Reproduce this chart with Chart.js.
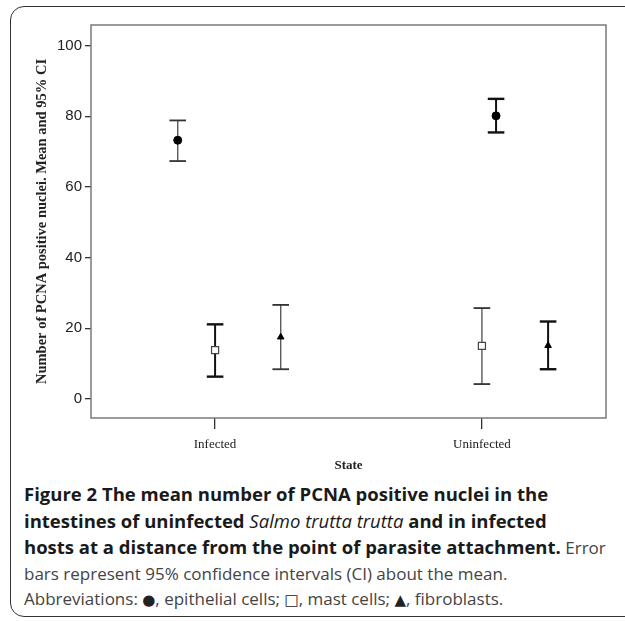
<!DOCTYPE html>
<html>
<head>
<meta charset="utf-8">
<script src="https://cdn.jsdelivr.net/npm/chart.js@4"></script>
<style>
  body { margin: 0; background: #fff; width: 625px; height: 621px; overflow: hidden; position: relative; }
  #frame { position: absolute; left: 10px; top: 6px; width: 700px; height: 611px; border: 1.8px solid #333; border-radius: 14px; box-sizing: border-box; }
  #wrap { position: absolute; left: 0; top: 0; width: 625px; height: 480px; }
  #caption { position: absolute; left: 24px; top: 481px; font-family: "Open Sans", sans-serif; font-size: 17px; line-height: 25.5px; color: #444; white-space: nowrap; }
  #caption b { color: #1a1a1a; font-size: 18.5px; }
  #caption i { color: #1a1a1a; font-size: 18.5px; }
  #caption .sym { font-family: "DejaVu Sans", sans-serif; font-size: 15px; color: #222; }
</style>
</head>
<body>
<div id="frame"></div>
<div id="wrap"><canvas id="chart" width="625" height="480"></canvas></div>
<div id="caption">
  <b>Figure 2 The mean number of PCNA positive nuclei in the</b><br>
  <b>intestines of uninfected </b><i>Salmo trutta trutta</i><b> and in infected</b><br>
  <b>hosts at a distance from the point of parasite attachment.</b> Error<br>
  bars represent 95% confidence intervals (CI) about the mean.<br>
  Abbreviations: <span class="sym">●</span>, epithelial cells; <span class="sym">□</span>, mast cells; <span class="sym">▲</span>, fibroblasts.
</div>
<script>
// data
const states = ["Infected", "Uninfected"];
const yTicks = [0, 20, 40, 60, 80, 100];

const epiMean = [73.2, 80.1];
const epiLow = [67.3, 75.4];
const epiHigh = [78.8, 84.9];

const mastMean = [13.8, 15.0];
const mastLow = [6.3, 4.2];
const mastHigh = [21.1, 25.7];

const fibroMean = [17.5, 15.1];
const fibroLow = [8.4, 8.4];
const fibroHigh = [26.6, 21.9];

// horizontal dodge of each series around its state
const epiShift = [-0.14, 0.053];
const mastShift = [0, 0];
const fibroShift = [0.246, 0.248];

// the scan prints some bars darker than others
const epiTone = ["#5a5a5a", "#111"];
const mastTone = ["#111", "#5a5a5a"];
const fibroTone = ["#5a5a5a", "#111"];

const pos = (shift) => states.map((s, i) => i + 1 + shift[i]);
const means = (shift, m) => pos(shift).map((x, i) => ({ x: x, y: m[i] }));
function whiskers(shift, low, high) {
  const pts = [];
  pos(shift).forEach((x, i) => {
    pts.push({ x: x, y: low[i] }, { x: x, y: high[i] }, { x: x, y: null });
  });
  return pts;
}

function whiskerSet(label, shift, low, high, tone) {
  const dark = (c) => c === "#111";
  return {
    label: label,
    data: whiskers(shift, low, high),
    showLine: true,
    spanGaps: false,
    borderColor: "#333",
    borderWidth: 1.5,
    segment: {
      borderColor: (ctx) => tone[Math.floor(ctx.p0DataIndex / 3)],
      borderWidth: (ctx) => dark(tone[Math.floor(ctx.p0DataIndex / 3)]) ? 2 : 1.4
    },
    pointStyle: "line",
    pointRadius: 8.3,
    pointBorderWidth: (ctx) => dark(tone[Math.floor(ctx.dataIndex / 3)]) ? 2.4 : 1.8,
    pointBorderColor: (ctx) => dark(tone[Math.floor(ctx.dataIndex / 3)]) ? "#111" : "#333"
  };
}

const plotBox = {
  id: "plotBox",
  beforeDatasetsDraw(chart) {
    const { ctx, chartArea: a } = chart;
    ctx.save();
    ctx.strokeStyle = "#7a7a7a";
    ctx.lineWidth = 1.5;
    ctx.strokeRect(a.left, a.top, a.right - a.left, a.bottom - a.top);
    ctx.restore();
  }
};

new Chart(document.getElementById("chart"), {
  type: "scatter",
  data: {
    datasets: [
      { label: "epithelial", data: means(epiShift, epiMean), pointStyle: "circle", pointRadius: 4, backgroundColor: "#000", borderColor: "#000", borderWidth: 1 },
      { label: "mast", data: means(mastShift, mastMean), pointStyle: "rect", pointRadius: 5, backgroundColor: "#fff", borderColor: "#444", borderWidth: 1.2 },
      { label: "fibro", data: means(fibroShift, fibroMean), pointStyle: "triangle", pointRadius: 3.8, backgroundColor: "#000", borderColor: "#000", borderWidth: 1 },
      whiskerSet("epi CI", epiShift, epiLow, epiHigh, epiTone),
      whiskerSet("mast CI", mastShift, mastLow, mastHigh, mastTone),
      whiskerSet("fibro CI", fibroShift, fibroLow, fibroHigh, fibroTone)
    ]
  },
  options: {
    responsive: false,
    animation: false,
    events: [],
    layout: { padding: { top: 25, right: 19, left: 0, bottom: 0 } },
    plugins: { legend: { display: false }, tooltip: { enabled: false } },
    scales: {
      x: {
        type: "linear",
        min: 0.535,
        max: 2.465,
        afterBuildTicks: (axis) => { axis.ticks = states.map((s, i) => ({ value: i + 1 })); },
        afterFit: (axis) => { axis.height = 62; },
        ticks: {
          callback: (v) => states[Math.round(v) - 1],
          font: { family: "Liberation Serif", size: 13 },
          color: "#222",
          padding: 8,
          maxRotation: 0
        },
        grid: { drawOnChartArea: false, tickLength: 11, color: "#333", lineWidth: 1.3 },
        border: { display: false },
        title: {
          display: true,
          text: "State",
          font: { family: "Liberation Serif", size: 13, weight: "bold" },
          color: "#222",
          padding: { top: 0, bottom: 7 }
        }
      },
      y: {
        min: -5.4,
        max: 105.8,
        afterBuildTicks: (axis) => { axis.ticks = yTicks.map((v) => ({ value: v })); },
        afterFit: (axis) => { axis.width = 91; },
        ticks: {
          font: { family: "Liberation Sans", size: 15 },
          color: "#222",
          padding: 3
        },
        grid: { drawOnChartArea: false, tickLength: 6, color: "#333", lineWidth: 1.3 },
        border: { display: false },
        title: {
          display: true,
          text: "Number of PCNA positive nuclei. Mean and 95% CI",
          font: { family: "Liberation Serif", size: 14.5, weight: "bold" },
          color: "#222",
          padding: { top: 34, bottom: 0 }
        }
      }
    }
  },
  plugins: [plotBox]
});
</script>
</body>
</html>
